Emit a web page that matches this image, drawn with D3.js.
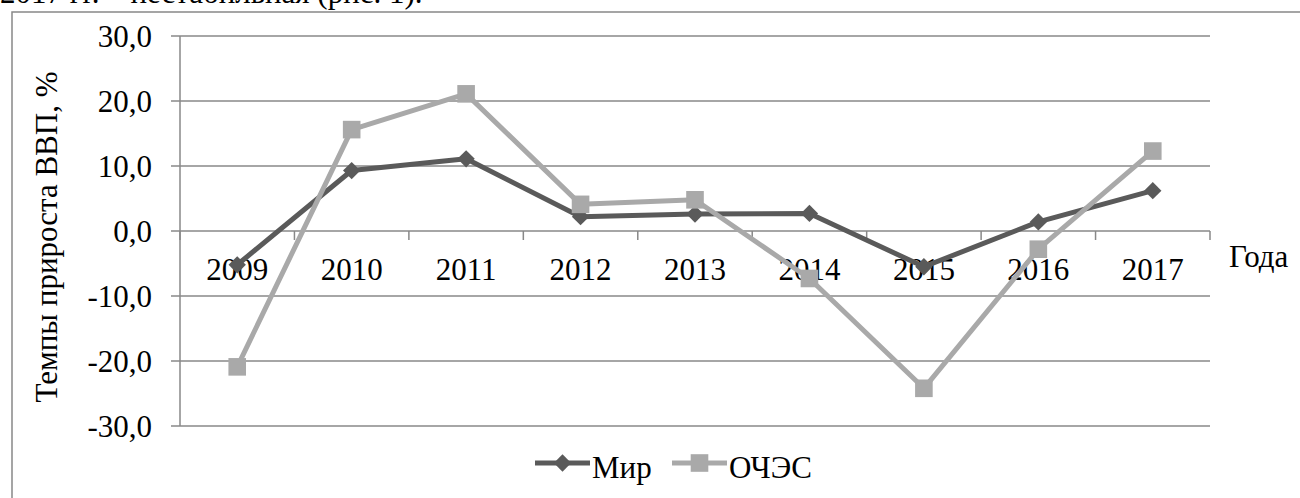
<!DOCTYPE html>
<html><head><meta charset="utf-8">
<script src="https://cdn.jsdelivr.net/npm/d3@7"></script>
<style>html,body{margin:0;padding:0;background:#fff;overflow:hidden}
svg text{font-family:"Liberation Serif","Times New Roman","DejaVu Serif",serif;}</style>
</head><body>
<svg id="c" width="1300" height="498"></svg>
<script>
const years = ["2009","2010","2011","2012","2013","2014","2015","2016","2017"];
const mir   = [-5.2, 9.3, 11.1, 2.2, 2.6, 2.7, -5.5, 1.4, 6.2];
const oches = [-20.9, 15.6, 21.1, 4.1, 4.8, -7.3, -24.2, -2.8, 12.3];
const yTicks = [30, 20, 10, 0, -10, -20, -30];
const seriesNames = ["Мир", "ОЧЭС"];

const svg = d3.select("#c");
const FS = 31;
const grid = "#888888";
const cMir = "#5a5a5a", cO = "#a9a9a9";

// document text cut at top (as in the reference)
svg.append("text").attr("x", 0).attr("y", 3).attr("font-size", FS)
  .attr("fill", "#000").text("2017 гг. – нестабильная (рис. 1).");

// outer frame
svg.append("rect").attr("x", 12).attr("y", 12).attr("width", 1400).attr("height", 600)
  .attr("fill", "none").attr("stroke", grid).attr("stroke-width", 1.5);

const x = d3.scaleBand().domain(years).range([180, 1210]);
const y = d3.scaleLinear().domain([-30, 30]).range([426, 36]);

// gridlines
svg.append("g").selectAll("line").data(yTicks).join("line")
  .attr("x1", 171).attr("x2", 1210).attr("y1", d => y(d)).attr("y2", d => y(d))
  .attr("stroke", grid).attr("stroke-width", 1.5);

// y axis line
svg.append("line").attr("x1", 180).attr("x2", 180).attr("y1", y(30)).attr("y2", y(-30))
  .attr("stroke", grid).attr("stroke-width", 1.5);

// y tick labels
svg.append("g").selectAll("text").data(yTicks).join("text")
  .attr("x", 152).attr("y", d => y(d) + 11).attr("text-anchor", "end")
  .attr("font-size", FS).attr("fill", "#000")
  .text(d => d3.format(".1f")(d).replace(".", ",").replace("−", "-"));

// x axis ticks (category boundaries)
const bounds = years.map(d => x(d)).concat([x(years[years.length - 1]) + x.bandwidth()]);
svg.append("g").selectAll("line").data(bounds).join("line")
  .attr("x1", d => d).attr("x2", d => d).attr("y1", y(0)).attr("y2", y(0) + 9)
  .attr("stroke", grid).attr("stroke-width", 1.5);

// x tick labels
svg.append("g").selectAll("text").data(years).join("text")
  .attr("x", d => x(d) + x.bandwidth() / 2).attr("y", 280).attr("text-anchor", "middle")
  .attr("font-size", FS).attr("fill", "#000").text(d => d);

// axis titles
svg.append("text").attr("transform", "translate(57,237) rotate(-90)").attr("text-anchor", "middle")
  .attr("font-size", FS).attr("fill", "#000").text("Темпы прироста ВВП, %");
svg.append("text").attr("x", 1229).attr("y", 267)
  .attr("font-size", FS).attr("fill", "#000").text("Года");

const cx = d => x(d) + x.bandwidth() / 2;
const line = d3.line().x((v, i) => cx(years[i])).y(v => y(v));

const diamond = d3.symbol().type(d3.symbolSquare).size(150);
const square = d3.symbol().type(d3.symbolSquare).size(310);

// Mir series
svg.append("path").datum(mir).attr("d", line).attr("fill", "none").attr("stroke", cMir)
  .attr("stroke-width", 5).attr("stroke-linejoin", "round");
svg.append("g").selectAll("path").data(mir).join("path")
  .attr("d", diamond).attr("fill", cMir)
  .attr("transform", (v, i) => `translate(${cx(years[i])},${y(v)}) rotate(45)`);

// OChES series
svg.append("path").datum(oches).attr("d", line).attr("fill", "none").attr("stroke", cO)
  .attr("stroke-width", 5).attr("stroke-linejoin", "round");
svg.append("g").selectAll("path").data(oches).join("path")
  .attr("d", square).attr("fill", cO)
  .attr("transform", (v, i) => `translate(${cx(years[i])},${y(v)})`);

// legend
const leg = [
  {name: seriesNames[0], color: cMir, sym: diamond, rot: 45, x0: 535},
  {name: seriesNames[1], color: cO, sym: square, rot: 0, x0: 672}
];
const lg = svg.append("g").selectAll("g").data(leg).join("g");
lg.append("line").attr("x1", d => d.x0).attr("x2", d => d.x0 + 55).attr("y1", 463).attr("y2", 463)
  .attr("stroke", d => d.color).attr("stroke-width", 5);
lg.append("path").attr("d", d => d.sym()).attr("fill", d => d.color)
  .attr("transform", d => `translate(${d.x0 + 27.5},463) rotate(${d.rot})`);
lg.append("text").attr("x", d => d.x0 + 57).attr("y", 478)
  .attr("font-size", FS).attr("fill", "#000").text(d => d.name);
</script>
</body></html>
